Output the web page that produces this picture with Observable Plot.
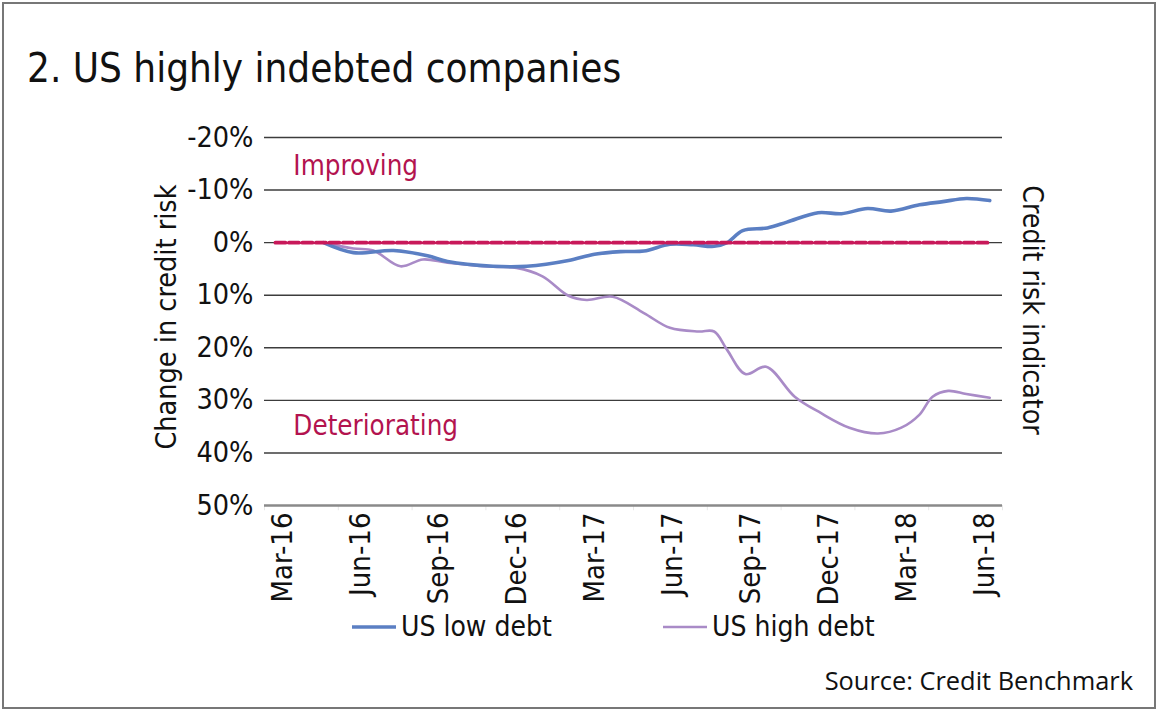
<!DOCTYPE html>
<html>
<head>
<meta charset="utf-8">
<script src="https://cdn.jsdelivr.net/npm/d3@7"></script>
<script src="https://cdn.jsdelivr.net/npm/@observablehq/plot@0.6"></script>
<style>
  html, body { margin: 0; padding: 0; background: #fff; }
  body { width: 1160px; height: 716px; position: relative; overflow: hidden;
         font-family: "DejaVu Sans Condensed", "DejaVu Sans", sans-serif; font-stretch: condensed; color: #111; }
  #border { position: absolute; left: 2px; top: 2px; width: 1150px; height: 703px; border: 2px solid #777; box-sizing: content-box; }
  #title { position: absolute; left: 27px; top: 48px; font-size: 40px; line-height: 40px; white-space: nowrap; }
  #chart { position: absolute; left: 0; top: 0; }
  .vlab { position: absolute; font-size: 28.5px; line-height: 28.5px; white-space: nowrap; }
  #ylab { left: 167px; top: 317px; transform: translate(-50%, -50%) rotate(-90deg); }
  #rlab { left: 1032px; top: 310px; transform: translate(-50%, -50%) rotate(90deg); font-size: 28.2px; }
  .leg { position: absolute; top: 608px; height: 38px; display: flex; align-items: center; font-size: 28px; line-height: 38px; white-space: nowrap; }
  .leg svg { margin-right: 5px; }
  #source { position: absolute; right: 27px; top: 668px; font-family: "Open Sans", sans-serif; font-stretch: normal; font-size: 25.4px; line-height: 25px; white-space: nowrap; }
</style>
</head>
<body>
<div id="border"></div>
<div id="title">2. US highly indebted companies</div>
<div id="chart"></div>
<div id="ylab" class="vlab">Change in credit risk</div>
<div id="rlab" class="vlab">Credit risk indicator</div>
<div id="legend"></div>
<div id="source">Source: Credit Benchmark</div>
<script>
// ---- data (x = months after Mar-16, y = change in credit risk, %) ----
const tickLabels = ["Mar-16","Jun-16","Sep-16","Dec-16","Mar-17","Jun-17","Sep-17","Dec-17","Mar-18","Jun-18"];
const tickMonths = [0, 3, 6, 9, 12, 15, 18, 21, 24, 27];
const yTicks = [-20, -10, 0, 10, 20, 30, 40, 50];

const lowMonths  = [1.58, 2.73, 4.27, 5.58, 6.35, 8.1, 9.4, 11.0, 12.0, 13.0, 13.9, 14.9, 15.8, 16.6, 17.1, 17.7, 18.65, 19.4, 20.6, 21.5, 22.5, 23.4, 24.5, 25.4, 26.3, 27.2];
const lowValues  = [0, 1.9, 1.5, 2.5, 3.6, 4.5, 4.5, 3.4, 2.2, 1.7, 1.6, 0.3, 0.4, 0.7, 0, -2.3, -2.8, -3.9, -5.7, -5.5, -6.5, -6.0, -7.2, -7.8, -8.4, -8.0];

const highMonths = [1.58, 2.73, 3.5, 4.54, 5.4, 6.35, 8.1, 9.0, 10.0, 11.0, 11.7, 12.7, 13.9, 14.9, 16.0, 16.6, 17.1, 17.8, 18.6, 19.7, 20.7, 21.8, 22.9, 23.8, 24.5, 25.0, 25.6, 26.3, 27.2];
const highValues = [0, 1.1, 1.5, 4.5, 3.2, 3.8, 4.6, 4.8, 6.4, 10.1, 10.9, 10.3, 13.4, 16.2, 16.9, 16.9, 20.4, 25.0, 23.6, 29.3, 32.4, 35.2, 36.3, 35.2, 32.7, 29.3, 28.2, 28.8, 29.5];

const zeroMonths = [-0.27, 27.2];
const zeroValues = [0, 0];

const seriesNames = ["US low debt", "US high debt"];
const seriesColors = ["#5b7fc3", "#a98bc7"];
const seriesWidths = [3.6, 2.6];

const notes = [
  {label: "Improving", month: 0.42, value: -14.5},
  {label: "Deteriorating", month: 0.42, value: 34.9}
];
const noteColor = "#b3134f";
const zeroColor = "#c8195a";

// ---- build tables ----
const lowData = lowMonths.map((m, i) => ({m, v: lowValues[i]}));
const highData = highMonths.map((m, i) => ({m, v: highValues[i]}));
const zeroData = zeroMonths.map((m, i) => ({m, v: zeroValues[i]}));

const xDomain = [-0.69, 27.69];
const yDomain = [-20, 50];
const boundaries = d3.range(11).map(i => xDomain[0] + i * (xDomain[1] - xDomain[0]) / 10);

const FONT = '"DejaVu Sans Condensed", "DejaVu Sans", sans-serif';

const chart = Plot.plot({
  width: 1160,
  height: 560,
  marginLeft: 264,
  marginRight: 158,
  marginTop: 137,
  marginBottom: 55,
  style: {fontFamily: FONT, fontStretch: "condensed", background: "transparent", color: "#111", overflow: "visible"},
  x: {domain: xDomain},
  y: {domain: yDomain, reverse: true},
  marks: [
    Plot.ruleY(yTicks.slice(0, -1), {stroke: "#3c3c3c", strokeWidth: 1.4}),
    Plot.ruleX(boundaries, {y1: yDomain[1], y2: yDomain[1] + 1.0, stroke: "#e8e8e8", strokeWidth: 1}),
    Plot.ruleY(yTicks.slice(-1), {stroke: "#8a8a8a", strokeWidth: 2.4}),
    Plot.axisY({ticks: yTicks, tickFormat: d => `${d}%`, tickSize: 0, tickPadding: 11, fontSize: 28.5, color: "#111"}),
    Plot.axisX({ticks: tickMonths, tickFormat: (d, i) => tickLabels[i], tickRotate: -90, tickSize: 0, tickPadding: 7, fontSize: 29}),
    Plot.line(highData, {x: "m", y: "v", stroke: seriesColors[1], strokeWidth: seriesWidths[1], curve: "catmull-rom"}),
    Plot.line(lowData, {x: "m", y: "v", stroke: seriesColors[0], strokeWidth: seriesWidths[0], curve: "catmull-rom"}),
    Plot.line(zeroData, {x: "m", y: "v", stroke: zeroColor, strokeWidth: 3.8, strokeDasharray: "10,3.5"}),
    Plot.text(notes, {x: "month", y: "value", text: "label", textAnchor: "start", fill: noteColor, fontSize: 27.5})
  ]
});
document.getElementById("chart").appendChild(chart);

// ---- legend ----
const legend = document.getElementById("legend");
const legendLeft = [352, 663];
seriesNames.forEach((name, i) => {
  const item = document.createElement("div");
  item.className = "leg";
  item.style.left = legendLeft[i] + "px";
  item.innerHTML = `<svg width="44" height="8"><line x1="0" x2="44" y1="4" y2="4" stroke="${seriesColors[i]}" stroke-width="${seriesWidths[i]}"/></svg><span>${name}</span>`;
  legend.appendChild(item);
});
</script>
</body>
</html>
